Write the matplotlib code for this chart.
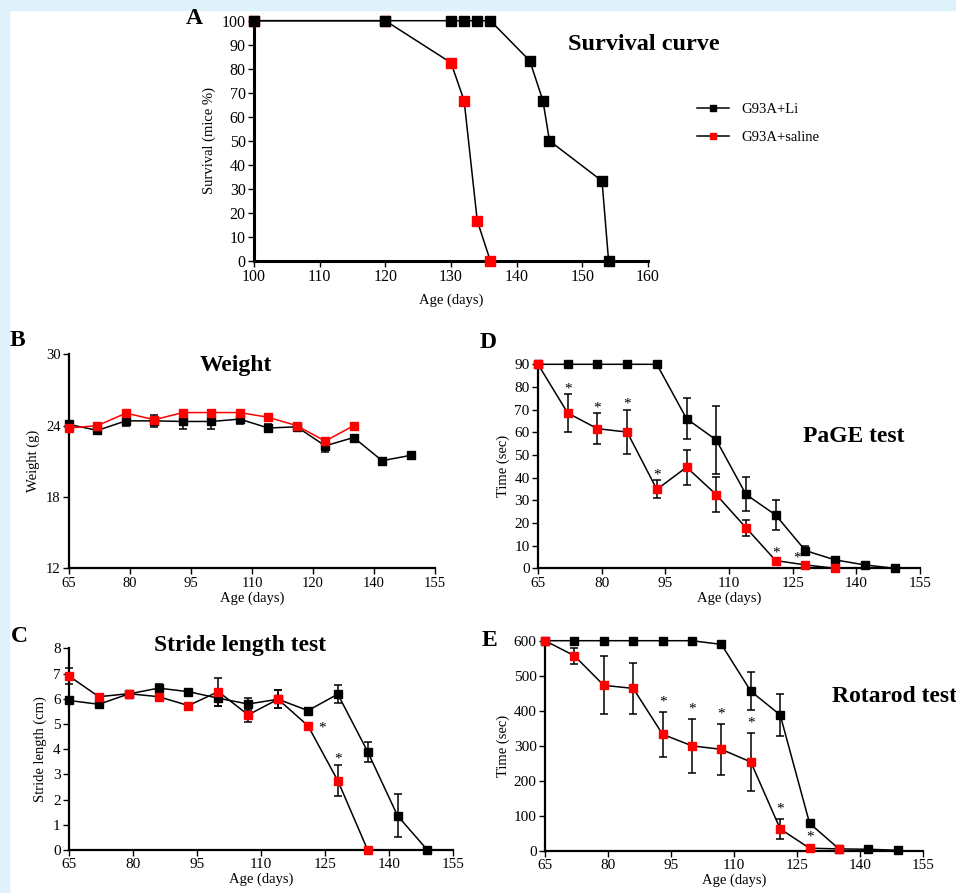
import matplotlib.pyplot as plt
import numpy as np
from matplotlib.lines import Line2D
from matplotlib.patches import Rectangle

plt.rcParams['font.family'] = ['Liberation Serif', 'DejaVu Serif']

# panel A: survival
surv_li_days = [100, 120, 130, 132, 134, 136, 142, 144, 145, 153, 154]
surv_li = [100, 100, 100, 100, 100, 100, 83.3, 66.7, 50, 33.3, 0]
surv_sal_days = [100, 120, 130, 132, 134, 136]
surv_sal = [100, 100, 82.5, 66.7, 16.7, 0]

# weekly tests, age in days
days = [65, 72, 79, 86, 93, 100, 107, 114, 121, 128, 135, 142, 149]

weight_li = [24.1, 23.6, 24.4, 24.4, 24.35, 24.35, 24.55, 23.8, 23.9, 22.3, 23.0, 21.05, 21.5]
weight_li_err = [0.3, 0.2, 0.4, 0.5, 0.6, 0.6, 0.4, 0.3, 0.2, 0.5, 0.2, 0.2, 0.3]
weight_sal = [23.8, 24.0, 25.05, 24.5, 25.1, 25.1, 25.1, 24.7, 24.0, 22.7, 24.0]
weight_sal_err = [0.2, 0.2, 0.2, 0.2, 0.2, 0.2, 0.2, 0.2, 0.2, 0.2, 0.2]

page_li = [90, 90, 90, 90, 90, 66.0, 56.6, 32.6, 23.5, 7.8, 3.7, 1.5, 0]
page_li_err = [0, 0, 0, 0, 0, 9, 15, 7.5, 6.5, 2, 1, 0.5, 0]
page_sal = [90, 68.5, 61.6, 60.1, 34.8, 44.6, 32.5, 17.9, 3.4, 1.5, 0]
page_sal_err = [0, 8.3, 6.8, 9.8, 4.0, 7.8, 7.8, 3.5, 1.0, 0.5, 0]
page_sig = [1, 2, 3, 4, 8, 9]

stride_li = [5.93, 5.78, 6.19, 6.42, 6.28, 6.02, 5.79, 5.98, 5.53, 6.18, 3.9, 1.36, 0]
stride_li_err = [0.1, 0.1, 0.1, 0.15, 0.1, 0.3, 0.25, 0.35, 0.1, 0.35, 0.4, 0.85, 0]
stride_sal = [6.9, 6.08, 6.2, 6.08, 5.73, 6.28, 5.36, 5.98, 4.93, 2.75, 0]
stride_sal_err = [0.3, 0.1, 0.1, 0.1, 0.1, 0.55, 0.3, 0.35, 0.1, 0.62, 0]
stride_sig = [8, 9]

rota_li = [600, 600, 600, 600, 600, 600, 589.5, 456, 388, 79, 6, 5, 2]
rota_li_err = [0, 0, 0, 0, 0, 0, 5, 55, 61, 5, 3, 2, 1]
rota_sal = [600, 557, 472.6, 464, 333, 300, 290, 254, 63, 8, 6]
rota_sal_err = [0, 23, 83, 73, 65, 77, 73, 83, 28, 3, 2]
rota_sig = [4, 5, 6, 7, 8, 9]

W, H = 956, 893
fig = plt.figure(figsize=(W / 100, H / 100), dpi=100)
fig.patches.append(Rectangle((0, 1 - 10 / H), 1, 10 / H, transform=fig.transFigure,
                             color='#dff1fb', zorder=-10))
fig.patches.append(Rectangle((0, 0), 9 / W, 1, transform=fig.transFigure,
                             color='#dff1fb', zorder=-10))


def make_ax(left, right, top, bottom, labelsize=11):
    ax = fig.add_axes([left / W, 1 - bottom / H, (right - left) / W, (bottom - top) / H])
    ax.spines['top'].set_visible(False)
    ax.spines['right'].set_visible(False)
    ax.spines['left'].set_linewidth(1.6)
    ax.spines['bottom'].set_linewidth(1.6)
    ax.tick_params(direction='out', length=4, width=1, labelsize=labelsize, pad=2)
    return ax


def draw_series(ax, x, y, err, line_color, marker_color, ms=6, z=3):
    ax.errorbar(x, y, yerr=err, fmt='none', ecolor='black', elinewidth=1.1,
                capsize=3, capthick=1.1, zorder=z, clip_on=False)
    ax.plot(x, y, '-', color=line_color, lw=1.1, zorder=z + 0.5, clip_on=False)
    ax.plot(x, y, 's', color=marker_color, ms=ms, mec=marker_color, zorder=z + 1,
            clip_on=False)


def stars(ax, idx, y, err, offset, dx=0.0):
    for i in idx:
        ax.text(days[i] + dx, y[i] + err[i] + offset, '*', ha='center', va='center',
                fontsize=11)


# ---- A
ax = make_ax(254, 648, 20.7, 261, labelsize=11.5)
ax.plot(surv_sal_days, surv_sal, '-', color='black', lw=1.1, zorder=3, clip_on=False)
ax.plot(surv_sal_days, surv_sal, 's', color='red', ms=7, zorder=4, clip_on=False)
ax.plot(surv_li_days, surv_li, '-', color='black', lw=1.1, zorder=5, clip_on=False)
ax.plot(surv_li_days, surv_li, 's', color='black', ms=7.5, zorder=6, clip_on=False)
ax.set_xlim(100, 160)
ax.set_ylim(0, 100)
ax.set_xticks(np.arange(100, 161, 10))
ax.set_yticks(np.arange(0, 101, 10))
ax.spines['left'].set_linewidth(2.2)
ax.spines['bottom'].set_linewidth(2.2)
ax.set_xlabel('Age (days)', fontsize=10.5, labelpad=6)
ax.set_ylabel('Survival (mice %)', fontsize=10.5, labelpad=4)
fig.text(568 / W, 1 - 45 / H, 'Survival curve', fontsize=17.5, fontweight='bold',
         ha='left', va='center')
fig.text(186 / W, 1 - 18 / H, 'A', fontsize=17, fontweight='bold', ha='left', va='center')
handles = [Line2D([], [], color='black', lw=1.1, marker='s', ms=4.5, mfc='black', mec='black'),
           Line2D([], [], color='black', lw=1.1, marker='s', ms=4.5, mfc='red', mec='red')]
fig.legend(handles, ['G93A+Li', 'G93A+saline'], loc='upper left',
           bbox_to_anchor=(684 / W, 1 - 90 / H), frameon=False, fontsize=10.5,
           handlelength=2.2, labelspacing=1.0, handletextpad=0.8)

# ---- B
ax = make_ax(69, 435, 354.3, 568.3, labelsize=10.5)
draw_series(ax, days, weight_li, weight_li_err, 'black', 'black', z=3)
draw_series(ax, days[:len(weight_sal)], weight_sal, weight_sal_err, 'red', 'red', z=6)
ax.set_xlim(65, 155)
ax.set_ylim(12, 30)
ax.set_yticks([12, 18, 24, 30])
ax.set_xticks(np.arange(65, 156, 15))
ax.set_xticklabels(['65', '80', '95', '110', '120', '140', '155'])
ax.set_xlabel('Age (days)', fontsize=10.5, labelpad=1)
ax.set_ylabel('Weight (g)', fontsize=10.5, labelpad=4)
fig.text(200 / W, 1 - 366 / H, 'Weight', fontsize=17, fontweight='bold', ha='left', va='center')
fig.text(10 / W, 1 - 340 / H, 'B', fontsize=17, fontweight='bold', ha='left', va='center')

# ---- D
ax = make_ax(538, 920, 364.3, 568.3)
draw_series(ax, days, page_li, page_li_err, 'black', 'black', z=3)
draw_series(ax, days[:len(page_sal)], page_sal, page_sal_err, 'black', 'red', z=6)
stars(ax, page_sig[:-1], page_sal, page_sal_err, 2.5)
stars(ax, page_sig[-1:], page_sal, page_sal_err, 2.5, dx=-2)
ax.set_xlim(65, 155)
ax.set_ylim(0, 90)
ax.set_yticks(np.arange(0, 91, 10))
ax.set_xticks(np.arange(65, 156, 15))
ax.set_xlabel('Age (days)', fontsize=10.5, labelpad=1)
ax.set_ylabel('Time (sec)', fontsize=10.5, labelpad=3)
fig.text(803 / W, 1 - 437 / H, 'PaGE test', fontsize=17, fontweight='bold', ha='left', va='center')
fig.text(480 / W, 1 - 343 / H, 'D', fontsize=17, fontweight='bold', ha='left', va='center')

# ---- C
ax = make_ax(69, 453, 648.3, 850)
draw_series(ax, days, stride_li, stride_li_err, 'black', 'black', z=3)
draw_series(ax, days[:len(stride_sal)], stride_sal, stride_sal_err, 'black', 'red', z=6)
ax.text(days[stride_sig[0]] + 3.2, stride_sal[stride_sig[0]] - 0.1, '*', ha='center',
        va='center', fontsize=11)
stars(ax, stride_sig[1:], stride_sal, stride_sal_err, 0.25)
ax.set_xlim(65, 155)
ax.set_ylim(0, 8)
ax.set_yticks(np.arange(0, 9, 1))
ax.set_xticks(np.arange(65, 156, 15))
ax.set_xlabel('Age (days)', fontsize=10.5, labelpad=1)
ax.set_ylabel('Stride length (cm)', fontsize=10.5, labelpad=4)
fig.text(240 / W, 1 - 646 / H, 'Stride length test', fontsize=17, fontweight='bold',
         ha='center', va='center')
fig.text(11 / W, 1 - 636 / H, 'C', fontsize=17, fontweight='bold', ha='left', va='center')

# ---- E
ax = make_ax(545, 923, 640.7, 851)
draw_series(ax, days, rota_li, rota_li_err, 'black', 'black', z=3)
draw_series(ax, days[:len(rota_sal)], rota_sal, rota_sal_err, 'black', 'red', z=6)
stars(ax, rota_sig, rota_sal, rota_sal_err, 28)
ax.set_xlim(65, 155)
ax.set_ylim(0, 600)
ax.set_yticks(np.arange(0, 601, 100))
ax.set_xticks(np.arange(65, 156, 15))
ax.set_xlabel('Age (days)', fontsize=10.5, labelpad=1)
ax.set_ylabel('Time (sec)', fontsize=10.5, labelpad=3)
fig.text(832 / W, 1 - 697 / H, 'Rotarod test', fontsize=17, fontweight='bold', ha='left', va='center')
fig.text(482 / W, 1 - 641 / H, 'E', fontsize=17, fontweight='bold', ha='left', va='center')

fig.savefig('out.png', dpi=100)
